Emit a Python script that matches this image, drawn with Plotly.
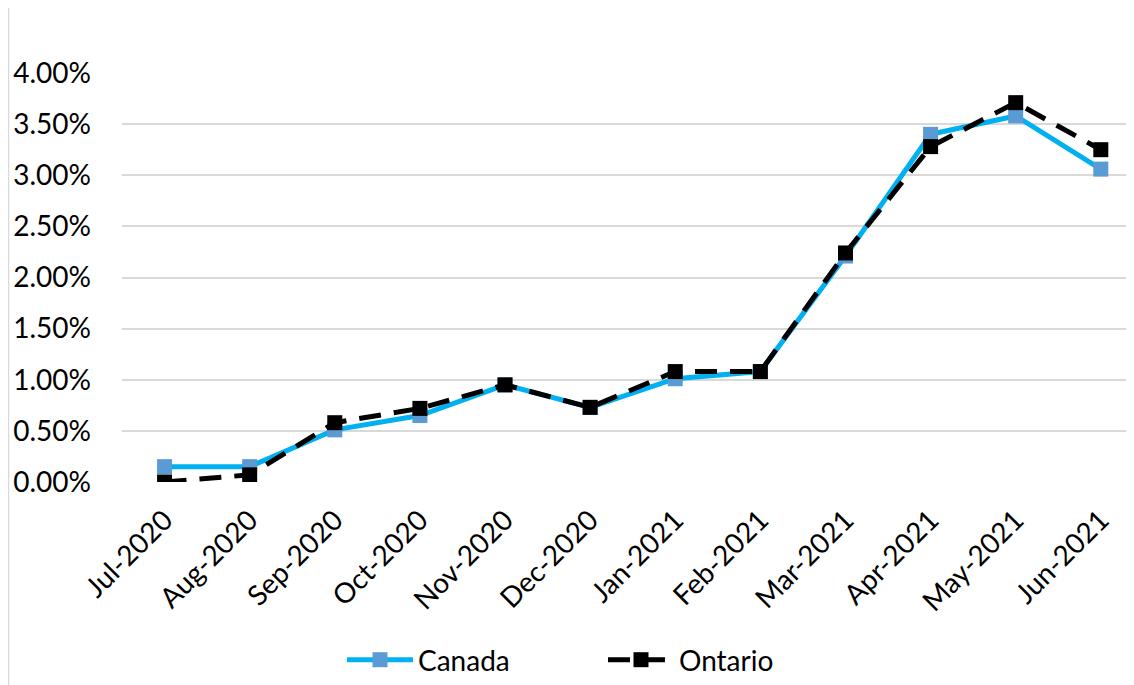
import plotly.graph_objects as go

months = ["Jul-2020", "Aug-2020", "Sep-2020", "Oct-2020", "Nov-2020", "Dec-2020",
          "Jan-2021", "Feb-2021", "Mar-2021", "Apr-2021", "May-2021", "Jun-2021"]
canada = [0.0015, 0.0015, 0.0051, 0.0065, 0.0095, 0.0073,
          0.0101, 0.0108, 0.0221, 0.0340, 0.0358, 0.0306]
ontario = [0.0000, 0.0007, 0.0058, 0.0072, 0.0095, 0.0073,
           0.0108, 0.0108, 0.0224, 0.0328, 0.0371, 0.0325]
y_ticks = [0, 0.005, 0.01, 0.015, 0.02, 0.025, 0.03, 0.035, 0.04]
y_labels = ["0.00%", "0.50%", "1.00%", "1.50%", "2.00%", "2.50%", "3.00%", "3.50%", "4.00%"]

FONT = "Lato"

fig = go.Figure()
fig.add_trace(go.Scatter(
    x=months, y=canada, name="Canada", mode="lines+markers",
    line=dict(color="#00B0F0", width=5),
    marker=dict(symbol="square", size=15, color="#5B9BD5", line=dict(width=0)),
))
fig.add_trace(go.Scatter(
    x=months, y=ontario, name="Ontario", mode="lines+markers",
    line=dict(color="#000000", width=5, dash="22px,13px"),
    marker=dict(symbol="square", size=15, color="#000000", line=dict(width=0)),
))

# page has an 8px body margin, so the figure is offset by 8px
W, H = 1126, 677
L, T = 114, 65
PW = W - L          # plot width in px
PH = 409            # plot height in px
B = H - T - PH

fig.update_layout(
    width=W, height=H,
    margin=dict(l=L, r=0, t=T, b=B),
    paper_bgcolor="white", plot_bgcolor="white",
    font=dict(family=FONT, size=28, color="#000000"),
    showlegend=True,
    legend=dict(
        orientation="h", x=(342 - 8 - L) / PW, xanchor="left",
        y=(482 - 660) / PH, yanchor="middle",
        font=dict(family=FONT, size=28, color="#000000"),
        entrywidth=180, entrywidthmode="pixels", itemwidth=66,
        bgcolor="rgba(0,0,0,0)",
    ),
    xaxis=dict(
        type="category", range=[-0.5, 11.39],
        showgrid=False, showline=False, zeroline=False,
        ticks="", tickangle=-45, ticklabelstandoff=15,
        tickfont=dict(family=FONT, size=28, color="#000000"),
    ),
    yaxis=dict(
        range=[0, 0.04], tickvals=y_ticks, ticktext=y_labels,
        showgrid=True, gridcolor="#D9D9D9", gridwidth=1.5,
        showline=False, zeroline=False, ticks="", ticklabelstandoff=30,
        tickfont=dict(family=FONT, size=28, color="#000000"),
    ),
    shapes=[dict(
        type="rect", xref="paper", yref="paper",
        x0=(0.5 - L) / PW, x1=1.1, y0=-0.55, y1=(482 - 7) / PH,
        line=dict(color="#D9D9D9", width=1.5), fillcolor="rgba(0,0,0,0)", layer="below",
    )],
)

fig.write_html("out.html")
